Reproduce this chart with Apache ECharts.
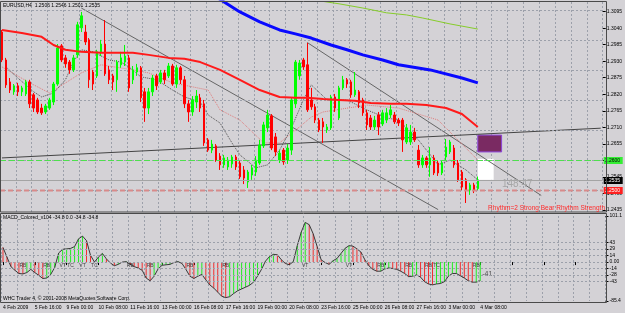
<!DOCTYPE html>
<html lang="en">
<head>
<meta charset="UTF-8">
<title>EURUSD,H4</title>
<script src="https://cdn.jsdelivr.net/npm/echarts@6/dist/echarts.min.js"></script>
<style>
    html, body { margin: 0; padding: 0; background: #d4d2d6; }
    #chart { width: 625px; height: 313px; }
</style>
</head>
<body>
<div id="chart"></div>
<script>
// time axis labels, one every 8 bars (H4)
var timeLabels = ['4 Feb 2009', '5 Feb 16:00', '9 Feb 00:00', '10 Feb 08:00', '11 Feb 16:00', '13 Feb 00:00',
    '16 Feb 08:00', '17 Feb 16:00', '19 Feb 00:00', '20 Feb 08:00', '23 Feb 16:00', '25 Feb 00:00',
    '26 Feb 08:00', '27 Feb 16:00', '3 Mar 00:00', '4 Mar 08:00'];
var priceTicks = [1.3095, 1.3040, 1.2985, 1.2930, 1.2875, 1.2820, 1.2765, 1.2710, 1.2655, 1.2600, 1.2545, 1.2490, 1.2435];
var macdTicks = [101.1, 43, 29, 14, 0, -14, -28, -43, -85.4];
var macdGrid = [43, 29, 14, 0, -14, -28, -43];

// open, close, low, high
var candles = [
    [1.3027,1.2934,1.2927,1.3034],[1.2934,1.2851,1.2841,1.2941],[1.2861,1.2834,1.2824,1.2874],[1.2828,1.2848,1.2818,1.2854],
    [1.2848,1.2828,1.2814,1.2858],[1.2828,1.2841,1.2814,1.2848],[1.2821,1.2861,1.2814,1.2868],[1.2861,1.2788,1.2774,1.2868],
    [1.2818,1.2774,1.2761,1.2824],[1.2801,1.2761,1.2754,1.2808],[1.2774,1.2758,1.2751,1.2788],[1.2761,1.2781,1.2754,1.2788],
    [1.2774,1.2801,1.2768,1.2808],[1.2794,1.2854,1.2784,1.2861],[1.2854,1.2974,1.2848,1.2987],[1.2981,1.2934,1.2927,1.2987],
    [1.2941,1.2921,1.2908,1.2951],[1.2927,1.2901,1.2888,1.2934],[1.2901,1.2941,1.2894,1.2951],[1.2951,1.3051,1.2941,1.3061],
    [1.3041,1.3081,1.3027,1.3094],[1.3027,1.2994,1.2984,1.3051],[1.3001,1.2868,1.2841,1.3007],[1.2894,1.2854,1.2834,1.2901],
    [1.2881,1.2961,1.2874,1.2968],[1.2961,1.2987,1.2947,1.3001],[1.2987,1.2888,1.2881,1.3067],[1.2901,1.2868,1.2854,1.2914],
    [1.2881,1.2861,1.2834,1.2888],[1.2868,1.2927,1.2828,1.2934],[1.2918,1.2941,1.2908,1.2961],[1.2927,1.2947,1.2914,1.2984],
    [1.2941,1.2841,1.2828,1.2951],[1.2868,1.2901,1.2854,1.2914],[1.2894,1.2908,1.2881,1.2921],[1.2908,1.2808,1.2794,1.2914],
    [1.2828,1.2774,1.2728,1.2841],[1.2774,1.2828,1.2754,1.2841],[1.2828,1.2874,1.2814,1.2884],[1.2881,1.2848,1.2834,1.2888],
    [1.2861,1.2891,1.2854,1.2901],[1.2891,1.2868,1.2854,1.2901],[1.2881,1.2914,1.2874,1.2924],[1.2914,1.2854,1.2848,1.2921],
    [1.2854,1.2908,1.2841,1.2918],[1.2908,1.2868,1.2854,1.2914],[1.2868,1.2788,1.2774,1.2881],[1.2788,1.2761,1.2728,1.2801],
    [1.2761,1.2801,1.2748,1.2814],[1.2794,1.2814,1.2774,1.2834],[1.2808,1.2774,1.2761,1.2821],[1.2788,1.2658,1.2648,1.2801],
    [1.2668,1.2634,1.2628,1.2674],[1.2634,1.2654,1.2624,1.2668],[1.2648,1.2601,1.2595,1.2654],[1.2614,1.2585,1.2568,1.2624],
    [1.2585,1.2608,1.2575,1.2618],[1.2578,1.2601,1.2568,1.2611],[1.2588,1.2611,1.2575,1.2618],[1.2611,1.2578,1.2568,1.2618],
    [1.2591,1.2545,1.2538,1.2601],[1.2568,1.2541,1.2521,1.2581],[1.2528,1.2561,1.2508,1.2568],[1.2551,1.2575,1.2535,1.2585],
    [1.2561,1.2601,1.2548,1.2614],[1.2591,1.2651,1.2585,1.2668],[1.2648,1.2718,1.2641,1.2728],[1.2708,1.2751,1.2694,1.2768],
    [1.2748,1.2641,1.2634,1.2754],[1.2678,1.2628,1.2614,1.2691],[1.2601,1.2624,1.2591,1.2634],[1.2634,1.2595,1.2585,1.2641],
    [1.2601,1.2641,1.2588,1.2654],[1.2634,1.2801,1.2618,1.2808],[1.2788,1.2927,1.2774,1.2934],[1.2881,1.2924,1.2868,1.2934],
    [1.2934,1.2911,1.2901,1.2941],[1.2918,1.2768,1.2761,1.2991],[1.2801,1.2778,1.2768,1.2841],[1.2778,1.2734,1.2724,1.2788],
    [1.2734,1.2701,1.2694,1.2741],[1.2728,1.2711,1.2658,1.2741],[1.2701,1.2711,1.2691,1.2721],[1.2708,1.2811,1.2701,1.2818],
    [1.2811,1.2774,1.2761,1.2821],[1.2741,1.2841,1.2734,1.2848],[1.2841,1.2868,1.2834,1.2881],[1.2868,1.2854,1.2841,1.2874],
    [1.2861,1.2818,1.2808,1.2868],[1.2818,1.2834,1.2811,1.2894],[1.2828,1.2791,1.2774,1.2834],[1.2801,1.2758,1.2748,1.2808],
    [1.2758,1.2718,1.2701,1.2768],[1.2741,1.2711,1.2701,1.2751],[1.2711,1.2734,1.2701,1.2748],[1.2751,1.2711,1.2684,1.2761],
    [1.2721,1.2758,1.2714,1.2768],[1.2734,1.2758,1.2724,1.2774],[1.2751,1.2768,1.2741,1.2784],[1.2751,1.2728,1.2721,1.2761],
    [1.2734,1.2724,1.2714,1.2741],[1.2734,1.2668,1.2628,1.2741],[1.2661,1.2708,1.2654,1.2721],[1.2661,1.2694,1.2651,1.2718],
    [1.2694,1.2668,1.2661,1.2708],[1.2634,1.2585,1.2575,1.2651],[1.2585,1.2608,1.2575,1.2618],[1.2608,1.2585,1.2575,1.2614],
    [1.2585,1.2608,1.2545,1.2644],[1.2608,1.2558,1.2551,1.2618],[1.2591,1.2558,1.2548,1.2601],[1.2558,1.2591,1.2551,1.2601],
    [1.2611,1.2644,1.2601,1.2671],[1.2628,1.2661,1.2621,1.2668],[1.2641,1.2585,1.2575,1.2651],[1.2591,1.2535,1.2528,1.2601],
    [1.2561,1.2511,1.2501,1.2568],[1.2535,1.2501,1.2458,1.2541],[1.2501,1.2518,1.2485,1.2525],[1.2518,1.2501,1.2491,1.2525],
    [1.2506,1.2535,1.2501,1.2546]
];

// moving averages, read as [bar, price]
var redMA = [[0,1.3034],[5,1.3024],[10,1.3011],[13,1.2984],[16,1.2968],[20,1.2961],[25,1.2958],[33,1.2958],[37,1.2951],
    [42,1.2941],[46,1.2938],[50,1.2927],[55,1.2901],[60,1.2868],[65,1.2834],[70,1.2811],[74,1.2808],[77,1.2808],[81,1.2804],
    [85,1.2801],[89,1.2798],[93,1.2791],[98,1.2788],[102,1.2788],[107,1.2784],[112,1.2774],[116,1.2754],[120,1.2711]];
var blueMA = [[54,1.3144],[60,1.3094],[65,1.3061],[70,1.3034],[74,1.3021],[78,1.3007],[83,1.2984],[87,1.2968],[91,1.2951],
    [96,1.2934],[100,1.2918],[108,1.2901],[116,1.2874],[120,1.2858]];
var greenMA = [[77,1.3137],[85,1.3121],[91,1.3107],[97,1.3091],[102,1.3084],[106,1.3074],[113,1.3054],[120,1.3037]];
var fastMA = [[1,1.2911],[4,1.2874],[8,1.2828],[10,1.2811],[13,1.2824],[16,1.2868],[18,1.2927],[20,1.2968],[23,1.2961],
    [27,1.2934],[30,1.2927],[32,1.2911],[35,1.2878],[39,1.2868],[43,1.2834],[46,1.2811],[50,1.2794],[52,1.2751],[55,1.2724],
    [58,1.2658],[60,1.2618],[64,1.2575],[67,1.2585],[70,1.2634],[73,1.2708],[76,1.2801],[78,1.2851],[82,1.2801],[87,1.2801],
    [92,1.2768],[97,1.2741],[100,1.2734],[105,1.2668],[110,1.2585],[113,1.2601],[117,1.2568],[120,1.2535]];
var slowMA = [[0,1.2911],[7,1.2858],[12,1.2824],[20,1.2891],[25,1.2918],[33,1.2901],[37,1.2891],[43,1.2858],[52,1.2834],
    [55,1.2768],[60,1.2734],[66,1.2658],[70,1.2658],[75,1.2711],[78,1.2744],[81,1.2761],[92,1.2784],[100,1.2774],[110,1.2734],[120,1.2601]];

// trend lines [bar, price] pairs
var trendLines = [
    [[20,1.3107],[110,1.2436]],
    [[77,1.2992],[136,1.2483]],
    [[0,1.2608],[151,1.2707]]
];
var levels = [1.2600, 1.2535, 1.2500];
// boxes: bar from, bar to, top price, bottom price
var boxes = [[120,126,1.2684,1.2628],[120,124,1.2605,1.2535]];

var macdValues = [32,11,-10,-18,-25,-26,-23,-16,-23,-29,
    -36,-35,-27,-12,20,28,29,30,34,51,
    57,47,15,0,11,19,7,-2,-8,-5,
    0,1,-5,-10,-13,-18,-35,-41,-31,-15,
    -7,-6,-5,-1,1,-3,-16,-31,-36,-31,
    -27,-39,-50,-57,-66,-75,-78,-76,-69,-63,
    -59,-55,-51,-44,-31,-16,2,12,17,16,
    5,-3,-6,1,36,66,87,82,62,34,
    5,-1,-5,3,8,19,30,36,35,29,
    22,5,-8,-16,-20,-20,-15,-13,-14,-16,
    -20,-25,-32,-31,-28,-33,-43,-48,-50,-48,
    -47,-43,-31,-25,-25,-30,-35,-41,-44,-44,
    -41];
var macdMarks = [[5,'RB'],[11,'RB'],[15,'VT'],[17,'TC'],[20,'VT'],[23,'TC'],[32,'RB'],[37,'RB'],[47,'RB'],[56,'RB'],
    [76,'VT'],[87,'VT'],[95,'RB'],[102,'RB'],[107,'RB'],[109,'TC'],[119,'RB']];

var cats = [];
for (var i = 0; i < 152; i++) cats.push(String(i));

var FONT = 'Liberation Sans';
var gridLine = {color: '#9ca0aa', type: [2, 2], width: 1};

function lineSeries(data, color, width, type, z) {
    return {
        type: 'line', xAxisIndex: 0, yAxisIndex: 0, data: data, symbol: 'none', silent: true, z: z,
        lineStyle: {color: color, width: width, type: type}
    };
}

var series = [];
// main grid
series.push({
    type: 'line', xAxisIndex: 0, yAxisIndex: 0, data: [], z: 1, silent: true,
    markLine: {symbol: ['none', 'none'], silent: true, label: {show: false}, lineStyle: gridLine,
        data: priceTicks.map(function (p) { return {yAxis: p}; })}
});
// boxes
series.push({
    type: 'line', xAxisIndex: 0, yAxisIndex: 0, data: [], z: 3, silent: true,
    markArea: {silent: true, data: boxes.map(function (b, k) {
        return [{xAxis: b[0], yAxis: b[2], itemStyle: k === 0
                ? {color: '#7a2a62', borderColor: '#8c44d8', borderWidth: 1}
                : {color: '#ffffff', borderWidth: 0}},
            {xAxis: b[1], yAxis: b[3]}];
    })}
});
trendLines.forEach(function (t, k) {
    series.push(lineSeries(t, k === 2 ? '#444444' : '#666666', 1, 'solid', 4));
});
series.push(lineSeries(slowMA, '#e07c7c', 1, 'dotted', 4));
series.push(lineSeries(fastMA, '#505050', 1, 'dotted', 4));
series.push({
    type: 'candlestick', xAxisIndex: 0, yAxisIndex: 0, data: candles, barWidth: 2, z: 5, silent: true,
    itemStyle: {color: '#00ff00', color0: '#ff0000', borderColor: '#00ff00', borderColor0: '#ff0000', borderWidth: 1}
});
series.push(lineSeries(redMA, '#ff1a1a', 2, 'solid', 6));
series.push(lineSeries(blueMA, '#0a0aff', 3, 'solid', 6));
series.push(lineSeries(greenMA, '#86cc2a', 1, 'solid', 6));

// price levels: line across the chart and a box on the price scale
var levelStyles = [
    {stroke: '#4ee04e', dash: [6, 3], width: 1, bg: '#33ee33', fg: '#000000'},
    {stroke: '#a4a4a4', dash: null, width: 1, bg: '#000000', fg: '#ffffff'},
    {stroke: '#d88a8a', dash: [5, 3], width: 2, bg: '#ff2020', fg: '#ffffff'}
];
series.push({
    type: 'custom', xAxisIndex: 0, yAxisIndex: 0, z: 8, silent: true, clip: false,
    data: levels.map(function (p, k) { return [k, p]; }),
    renderItem: function (params, api) {
        var k = api.value(0), p = api.value(1), st = levelStyles[k];
        var cs = params.coordSys;
        var y = Math.round(api.coord([0, p])[1]) + 0.5;
        var x2 = cs.x + cs.width;
        return {type: 'group', children: [
            {type: 'line', shape: {x1: cs.x, y1: y, x2: x2, y2: y},
                style: {stroke: st.stroke, lineWidth: st.width, lineDash: st.dash}},
            {type: 'rect', shape: {x: x2 + 1, y: y - 3.5, width: 19, height: 7}, style: {fill: st.bg}},
            {type: 'text', style: {text: p.toFixed(4), x: x2 + 2, y: y, fill: st.fg,
                font: '5px "' + FONT + '"', verticalAlign: 'middle'}}
        ]};
    }
});

// MACD panel
series.push({
    type: 'line', xAxisIndex: 1, yAxisIndex: 1, data: [], z: 1, silent: true,
    markLine: {symbol: ['none', 'none'], silent: true, label: {show: false}, lineStyle: gridLine,
        data: macdGrid.map(function (v) { return {yAxis: v}; })}
});
series.push({
    type: 'bar', xAxisIndex: 1, yAxisIndex: 1, barWidth: 1, silent: true, z: 3,
    data: macdValues.map(function (v, k) {
        var up = k === 0 ? false : v >= macdValues[k - 1];
        return {value: v, itemStyle: {color: up ? '#22ee22' : '#f03030'}};
    })
});
series.push({
    type: 'line', xAxisIndex: 1, yAxisIndex: 1, data: macdValues, symbol: 'none', silent: true, z: 4,
    lineStyle: {color: '#383838', width: 1},
    endLabel: {show: true, formatter: '{c}', color: '#505050', fontSize: 7, fontFamily: FONT, distance: 2, offset: [0, -7]}
});
series.push({
    type: 'scatter', xAxisIndex: 1, yAxisIndex: 1, symbolSize: 0, silent: true, z: 5,
    data: macdMarks.map(function (m) { return {value: [m[0], 0], name: m[1]}; }),
    label: {show: true, position: 'bottom', distance: 1, formatter: '{b}', fontSize: 5, color: '#202020', fontFamily: FONT}
});

function txt(text, x, y, size, color, align) {
    return {type: 'text', x: x, y: y, z: 100, silent: true,
        style: {text: text, fill: color, font: size + 'px "' + FONT + '"', align: align || 'left', verticalAlign: 'middle'}};
}

var option = {
    backgroundColor: '#d4d2d6',
    animation: false,
    textStyle: {fontFamily: FONT},
    grid: [
        {left: -1, right: 18, top: 2, height: 210},
        {left: -1, right: 18, top: 216, height: 85}
    ],
    xAxis: [
        {type: 'category', gridIndex: 0, data: cats, axisLine: {show: false}, axisTick: {show: false},
            axisLabel: {show: false}, splitLine: {show: true, interval: 3, lineStyle: gridLine}},
        {type: 'category', gridIndex: 1, data: cats, axisLine: {show: false},
            axisTick: {show: true, interval: 7, alignWithLabel: true, length: 3, lineStyle: {color: '#000'}},
            axisLabel: {show: true, interval: 7, fontSize: 5, color: '#000', align: 'left', margin: 4,
                formatter: function (v, idx) { return idx % 8 === 0 ? (timeLabels[idx / 8] || '') : ''; }},
            splitLine: {show: true, interval: 3, lineStyle: gridLine}}
    ],
    yAxis: [
        {type: 'value', gridIndex: 0, position: 'right', min: 1.2428, max: 1.3127, splitLine: {show: false},
            axisLine: {show: false},
            axisTick: {show: true, customValues: priceTicks, length: 3, lineStyle: {color: '#000'}},
            axisLabel: {customValues: priceTicks, fontSize: 5, color: '#000', margin: 4,
                formatter: function (v) { return v.toFixed(4); }}},
        {type: 'value', gridIndex: 1, position: 'right', min: -85.4, max: 101.1, splitLine: {show: false},
            axisLine: {show: false},
            axisTick: {show: true, customValues: macdTicks, length: 3, lineStyle: {color: '#000'}},
            axisLabel: {customValues: macdTicks, fontSize: 5, color: '#000', margin: 4,
                formatter: function (v) { return v === 0 ? '0.00' : String(v); }}}
    ],
    graphic: [
        {type: 'rect', z: 90, silent: true, shape: {x: 0.5, y: 1.5, width: 606, height: 210.5},
            style: {fill: 'none', stroke: '#4a4a4a', lineWidth: 1}},
        {type: 'rect', z: 90, silent: true, shape: {x: 0.5, y: 213.5, width: 606, height: 89},
            style: {fill: 'none', stroke: '#4a4a4a', lineWidth: 1}},
        txt('EURUSD,H4  1.2506 1.2546 1.2501 1.2535', 3, 6, 5, '#000'),
        txt('MACD_Colored_v104 -34.8 0.0 -34.8 -34.8', 3, 218, 5, '#000'),
        txt('WHC Trader 4, \u00a9 2001-2008 MetaQuotes Software Corp.', 3, 299, 5, '#000'),
        txt('148:47', 502, 184, 10, '#a6a6a6'),
        txt('Rhythm=2 Strong Bear Rhythm Strength', 605, 208, 6.5, '#ff2a2a', 'right')
    ],
    series: series
};

var chart = echarts.init(document.getElementById('chart'));
chart.setOption(option);
</script>
</body>
</html>
